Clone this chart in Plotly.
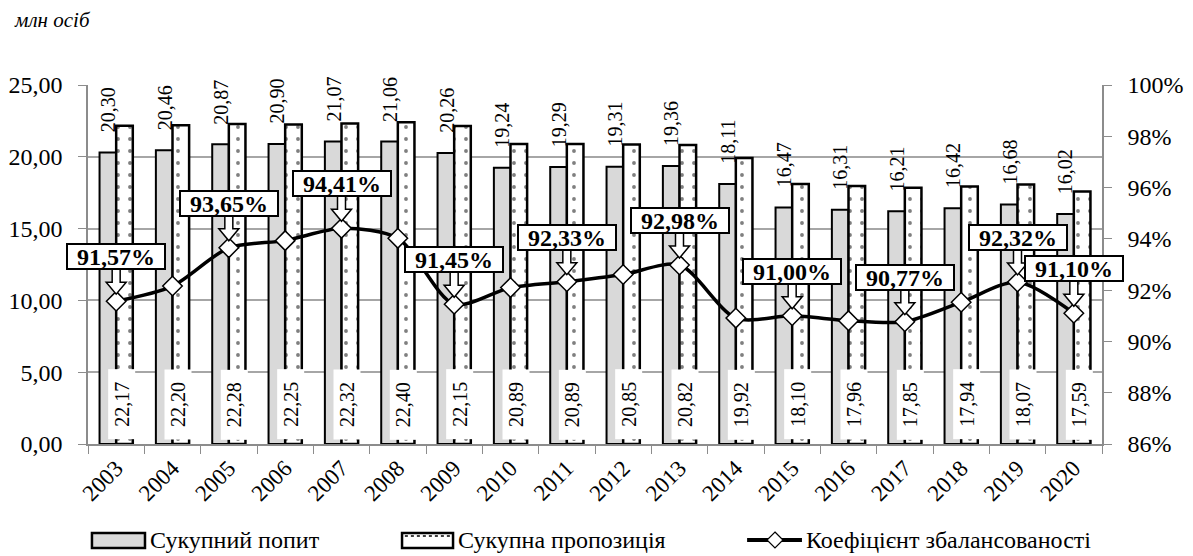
import plotly.graph_objects as go

years = [str(y) for y in range(2003, 2021)]
demand = [20.30, 20.46, 20.87, 20.90, 21.07, 21.06, 20.26, 19.24, 19.29, 19.31,
          19.36, 18.11, 16.47, 16.31, 16.21, 16.42, 16.68, 16.02]
supply = [22.17, 22.20, 22.28, 22.25, 22.32, 22.40, 22.15, 20.89, 20.89, 20.85,
          20.82, 19.92, 18.10, 17.96, 17.85, 17.94, 18.07, 17.59]
coef = [91.57, 92.16, 93.65, 93.93, 94.41, 94.02, 91.45, 92.10, 92.33, 92.61,
        92.98, 90.91, 91.00, 90.81, 90.77, 91.53, 92.32, 91.10]
coef_labeled = ["2003", "2005", "2007", "2009", "2011", "2013", "2015", "2017", "2019", "2020"]
names = ["Сукупний попит", "Сукупна пропозиція", "Коефіцієнт збалансованості"]

FONT = "Liberation Serif, Times New Roman, serif"
AXIS_GRAY = "#8c8c8c"
GRID_GRAY = "#a6a6a6"
GRAY_FILL = "#d9d9d9"

def fmt(v):
    return f"{v:.2f}".replace(".", ",")

fig = go.Figure()
fig.add_trace(go.Bar(
    x=years, y=demand, name=names[0],
    marker=dict(color=GRAY_FILL, line=dict(color="black", width=2)),
))
fig.add_trace(go.Bar(
    x=years, y=supply, name=names[1],
    marker=dict(color="white", line=dict(color="black", width=2.5),
                pattern=dict(shape=".", fgcolor="black", bgcolor="white",
                             size=12, solidity=0.08)),
))
fig.add_trace(go.Scatter(
    x=years, y=coef, name=names[2], yaxis="y2",
    mode="lines+markers",
    line=dict(color="black", width=3.5, shape="spline", smoothing=0.8),
    marker=dict(symbol="diamond", size=15, color="white",
                line=dict(color="black", width=1.5)),
))

annotations = []
shapes = []
# demand labels above gray bars
for i, v in enumerate(demand):
    annotations.append(dict(
        x=i, y=v, xref="x", yref="y", text=fmt(v), showarrow=False,
        textangle=-90, xanchor="center", yanchor="bottom", xshift=-8, yshift=18,
        font=dict(family=FONT, size=20, color="black"),
    ))
# supply labels at base
for i, v in enumerate(supply):
    annotations.append(dict(
        x=i, y=0, xref="x", yref="y", text="\u00a0\u00a0" + fmt(v) + "\u00a0\u00a0",
        showarrow=False, textangle=-90, xanchor="center", yanchor="bottom",
        xshift=5, yshift=4, bgcolor="white", borderpad=2,
        font=dict(family=FONT, size=20, color="black"),
    ))
# coefficient callouts (box + block arrow pointer)
for i, (x, v) in enumerate(zip(years, coef)):
    if x in coef_labeled:
        shapes.append(dict(
            type="path", xref="x", yref="y2", xsizemode="pixel", ysizemode="pixel",
            xanchor=i, yanchor=v,
            path="M -4,33 L -4,19 L -10,19 L 0,7 L 10,19 L 4,19 L 4,33 Z",
            fillcolor="white", line=dict(color="black", width=1.5), layer="above",
        ))
        annotations.append(dict(
            x=i, y=v, xref="x", yref="y2", text="<b>" + fmt(v) + "%</b>",
            showarrow=False, xanchor="center", yanchor="bottom", yshift=31,
            bgcolor="white", bordercolor="black", borderwidth=2, borderpad=0,
            width=96, height=23, valign="middle",
            font=dict(family=FONT, size=24, color="black"),
        ))
annotations.append(dict(
    x=-0.075, y=1.18, xref="paper", yref="paper", text="<i>млн осіб</i>",
    showarrow=False, xanchor="left", yanchor="middle",
    font=dict(family=FONT, size=21, color="black"),
))

# custom legend (paper coordinates)
LY = -0.2674
shapes += [
    dict(type="rect", xref="paper", yref="paper", x0=0.0039, x1=0.0562,
         y0=-0.2897, y1=-0.2479, fillcolor=GRAY_FILL, line=dict(color="black", width=2.5)),
    dict(type="rect", xref="paper", yref="paper", x0=0.3097, x1=0.3600,
         y0=-0.2897, y1=-0.2479, fillcolor="white", line=dict(color="black", width=2.5)),
    dict(type="line", xref="paper", yref="paper", x0=0.3125, x1=0.3575,
         y0=-0.2565, y1=-0.2565, line=dict(color="black", width=1.5, dash="dot")),
    dict(type="line", xref="paper", yref="paper", x0=0.6500, x1=0.7041,
         y0=LY, y1=LY, line=dict(color="black", width=4)),
    dict(type="path", xref="paper", yref="paper", xsizemode="pixel", ysizemode="pixel",
         xanchor=0.6775, yanchor=LY, path="M 0,8 L 8,0 L 0,-8 L -8,0 Z",
         fillcolor="white", line=dict(color="black", width=1.2)),
]
for xp, name in zip([0.0592, 0.3629, 0.7061], names):
    annotations.append(dict(
        x=xp, y=LY, xref="paper", yref="paper", text=name, showarrow=False,
        xanchor="left", yanchor="middle", font=dict(family=FONT, size=24, color="black"),
    ))

# page adds an 8px body margin, so the figure is sized/offset to compensate
fig.update_layout(
    width=1177, height=548,
    margin=dict(l=80, r=83, t=77, b=112, autoexpand=False),
    paper_bgcolor="white", plot_bgcolor="white",
    separators=", ",
    barmode="group", bargap=0.41, bargroupgap=0,
    font=dict(family=FONT, size=24, color="black"),
    showlegend=False,
    xaxis=dict(type="category", range=[-0.5, len(years) - 0.5], autorange=False,
               tickangle=-45, ticks="outside", tickson="boundaries", automargin=False,
               ticklen=8, tickcolor=AXIS_GRAY, showline=True, linecolor=AXIS_GRAY,
               linewidth=1.5, showgrid=False, tickfont=dict(family=FONT, size=23)),
    yaxis=dict(range=[0, 25], dtick=5, tickformat=".2f", ticks="outside", ticklen=8,
               tickcolor=AXIS_GRAY, showline=True, linecolor=AXIS_GRAY, linewidth=1.5,
               showgrid=True, gridcolor=GRID_GRAY, gridwidth=1.5, zeroline=False,
               automargin=False, ticklabelstandoff=11, tickfont=dict(family=FONT, size=24)),
    yaxis2=dict(range=[86, 100], dtick=2, ticksuffix="%", tickformat="d",
                overlaying="y", side="right", ticks="outside", ticklen=8,
                tickcolor=AXIS_GRAY, showline=True, linecolor=AXIS_GRAY, linewidth=1.5,
                showgrid=False, zeroline=False, automargin=False, ticklabelstandoff=11,
                tickfont=dict(family=FONT, size=24)),
    annotations=annotations,
    shapes=shapes,
)

fig.write_html("out.html")
